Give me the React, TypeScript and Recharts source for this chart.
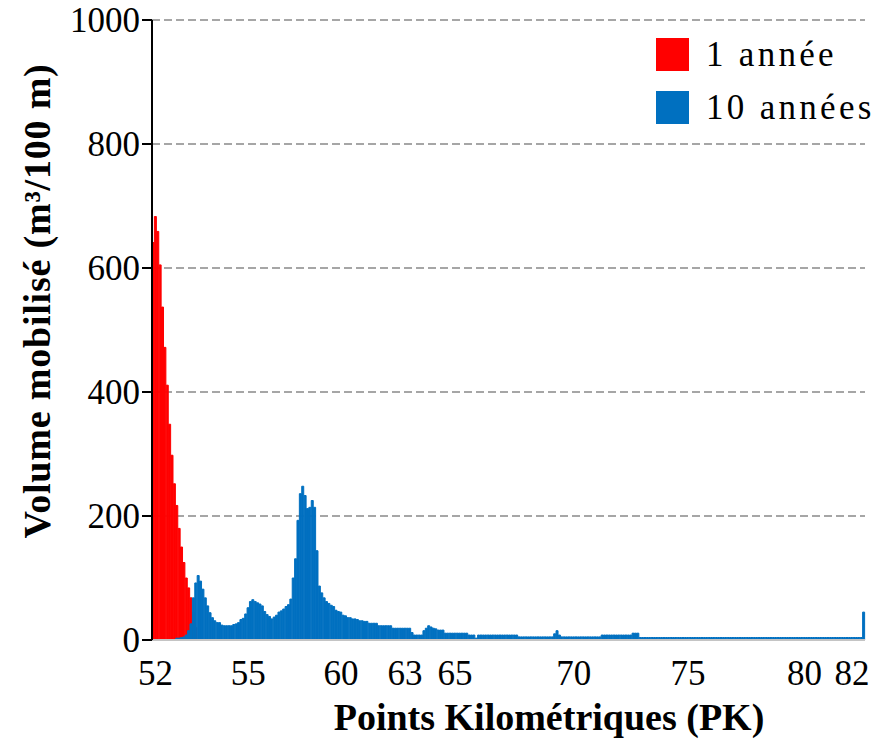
import React from 'react';
import {
  BarChart,
  Bar,
  XAxis,
  YAxis,
  CartesianGrid,
  Legend,
} from 'recharts';

const FONT = '"Liberation Serif", "Times New Roman", serif';
const RED_COLOR = '#ff0000';
const BLUE_COLOR = '#0070c0';

// volume per 100 m segment (segment 0 = PK 52)
const RED_1AN = [
  641, 683, 659, 605, 537, 472, 411, 348, 298, 252,
  217, 180, 150, 125, 100, 84, 68, 45, 20,
];

const BLUE_10ANS = [
  0, 0, 0, 0, 0, 0, 0, 0, 0, 0,
  3, 3, 4, 5, 8, 15, 26, 68, 92, 104,
  95, 82, 68, 55, 44, 36, 31, 28, 28, 24,
  23, 23, 23, 23, 25, 26, 28, 33, 35, 42,
  52, 62, 65, 62, 60, 58, 55, 46, 41, 38,
  34, 37, 40, 45, 47, 50, 54, 57, 66, 100,
  131, 193, 236, 248, 233, 212, 214, 225, 214, 144,
  87, 76, 68, 62, 59, 56, 54, 48, 46, 45,
  40, 39, 36, 36, 34, 34, 33, 31, 31, 30,
  30, 27, 27, 27, 27, 23, 23, 23, 23, 23,
  23, 19, 19, 19, 19, 19, 19, 19, 19, 12,
  8, 8, 8, 8, 15, 19, 23, 21, 19, 18,
  16, 16, 16, 11, 11, 11, 11, 11, 11, 11,
  11, 11, 11, 8, 8, 8, 3, 8, 8, 8,
  8, 8, 8, 8, 8, 8, 8, 8, 8, 8,
  8, 8, 8, 8, 5, 5, 5, 5, 5, 5,
  5, 5, 5, 5, 5, 5, 5, 5, 5, 10,
  15, 8, 5, 5, 5, 5, 5, 5, 5, 5,
  5, 5, 5, 5, 5, 5, 5, 5, 5, 8,
  8, 8, 8, 8, 8, 8, 8, 8, 8, 8,
  8, 8, 11, 11, 11, 4, 4, 4, 4, 4,
  4, 4, 4, 4, 4, 4, 4, 4, 4, 4,
  4, 4, 4, 4, 4, 4, 4, 4, 4, 4,
  4, 4, 4, 4, 4, 4, 4, 4, 4, 4,
  4, 4, 4, 4, 4, 4, 4, 4, 4, 4,
  4, 4, 4, 4, 4, 4, 4, 4, 4, 4,
  4, 4, 4, 4, 4, 4, 4, 4, 4, 4,
  4, 4, 4, 4, 4, 4, 4, 4, 4, 4,
  4, 4, 4, 4, 4, 4, 4, 4, 4, 4,
  4, 4, 4, 4, 4, 4, 4, 4, 4, 45,
];

// segments carrying a PK label, and the labels
const PK_TICK_SEGS = [1, 40, 79, 106, 127, 177, 225, 274, 294];
const PK_TICK_LABELS = ['52', '55', '60', '63', '65', '70', '75', '80', '82'];

const Y_TICKS = [0, 200, 400, 600, 800, 1000];

const LEGEND_ITEMS = [
  { label: '1 année', color: RED_COLOR },
  { label: '10 années', color: BLUE_COLOR },
];

const rows = BLUE_10ANS.map((b, i) => ({
  seg: i,
  red: RED_1AN[i] ?? null,
  blue: b,
}));

function PkTick(props: any) {
  const { x, y, payload } = props;
  const k = PK_TICK_SEGS.indexOf(payload.value);
  if (k < 0) return <g />;
  return (
    <text x={x} y={y} dy={37} textAnchor="middle" fontFamily={FONT} fontSize={35} fill="#000">
      {PK_TICK_LABELS[k]}
    </text>
  );
}

function XTitle() {
  return (
    <text x={549} y={730} textAnchor="middle" fontFamily={FONT} fontSize={38} fontWeight="bold" fill="#000">
      Points Kilométriques (PK)
    </text>
  );
}

function YTitle() {
  return (
    <text
      x={50}
      y={301}
      transform="rotate(-90 50 301)"
      textAnchor="middle"
      fontFamily={FONT}
      fontSize={38}
      fontWeight="bold"
      letterSpacing={0.8}
      fill="#000"
    >
      Volume mobilisé (m³/100 m)
    </text>
  );
}

function LegendBox() {
  return (
    <div style={{ fontFamily: FONT, fontSize: 35, color: '#000' }}>
      {LEGEND_ITEMS.map((it) => (
        <div key={it.label} style={{ display: 'flex', alignItems: 'center', height: 33, marginBottom: 20 }}>
          <div style={{ width: 33, height: 33, background: it.color, marginRight: 17 }} />
          <span style={{ letterSpacing: 3.3, lineHeight: '33px', whiteSpace: 'nowrap' }}>{it.label}</span>
        </div>
      ))}
    </div>
  );
}

export default function App() {
  return (
    <div style={{ position: 'absolute', left: 0, top: 0, width: 884, height: 749, background: '#fff' }}>
      <BarChart
        width={884}
        height={749}
        data={rows}
        margin={{ top: 20, right: 19, left: 0, bottom: 0 }}
        barCategoryGap={0}
        barGap={0}
      >
        <CartesianGrid vertical={false} stroke="#a6a6a6" strokeWidth={2} strokeDasharray="8 4" />
        <XAxis
          xAxisId="one"
          dataKey="seg"
          type="category"
          interval={0}
          height={109}
          tickLine={false}
          axisLine={{ stroke: '#c4c4c4', strokeWidth: 2 }}
          tick={<PkTick />}
          label={<XTitle />}
        />
        <XAxis xAxisId="ten" dataKey="seg" type="category" hide />
        <YAxis
          domain={[0, 1000]}
          ticks={Y_TICKS}
          width={152}
          tickSize={10}
          tickMargin={2}
          axisLine={{ stroke: '#000', strokeWidth: 2 }}
          tickLine={{ stroke: '#000', strokeWidth: 2 }}
          tick={{ fontFamily: FONT, fontSize: 35, fill: '#000' }}
          label={<YTitle />}
        />
        <Legend
          layout="vertical"
          align="center"
          verticalAlign="middle"
          wrapperStyle={{ left: 656, top: 38, width: 228 }}
          content={<LegendBox />}
        />
        <Bar
          xAxisId="one"
          dataKey="red"
          name="1 année"
          fill={RED_COLOR}
          stroke={RED_COLOR}
          strokeWidth={1}
          isAnimationActive={false}
        />
        <Bar
          xAxisId="ten"
          dataKey="blue"
          name="10 années"
          fill={BLUE_COLOR}
          stroke={BLUE_COLOR}
          strokeWidth={1}
          isAnimationActive={false}
        />
      </BarChart>
    </div>
  );
}
